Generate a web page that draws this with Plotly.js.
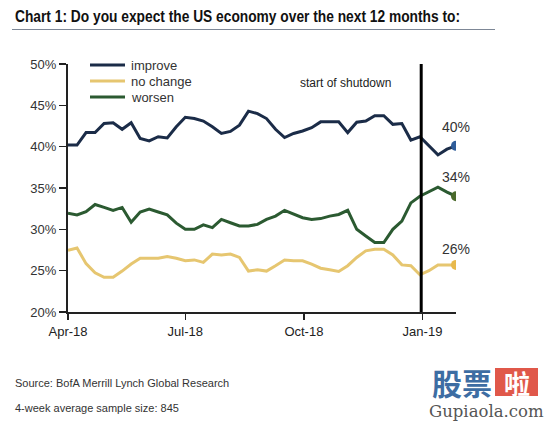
<!DOCTYPE html>
<html>
<head>
<meta charset="utf-8">
<script src="https://cdn.plot.ly/plotly-3.0.1.min.js"></script>
<style>
  html, body { margin: 0; padding: 0; background: #ffffff; }
  #chart { width: 547px; height: 421px; }
</style>
</head>
<body>
<div id="chart"></div>
<script>
// ---- Data (weekly) ----
const startDate = '2018-04-01';
const weeks = 44;
const improve = [40.2, 40.2, 41.7, 41.7, 42.8, 42.9, 42.1, 42.9, 41.0, 40.7, 41.2, 41.05, 42.4, 43.55,
                 43.4, 43.1, 42.4, 41.6, 41.85, 42.6, 44.3, 44.0, 43.4, 42.1, 41.1, 41.6, 41.9, 42.3,
                 43.0, 43.0, 43.0, 41.7, 42.95, 43.1, 43.75, 43.75, 42.7, 42.8, 40.8, 41.2, 40.1, 39.0, 39.7, 40.1];
const noChange = [27.45, 27.75, 25.85, 24.75, 24.2, 24.2, 24.95, 25.8, 26.5, 26.5, 26.5, 26.7, 26.5, 26.2,
                  26.3, 26.0, 27.0, 26.9, 27.0, 26.6, 24.95, 25.1, 24.95, 25.6, 26.3, 26.2, 26.2, 25.8,
                  25.3, 25.1, 24.9, 25.6, 26.6, 27.4, 27.6, 27.6, 26.9, 25.7, 25.6, 24.5, 25.0, 25.7, 25.7, 25.7];
const worsen = [31.95, 31.75, 32.15, 33.0, 32.65, 32.3, 32.65, 30.85, 32.1, 32.45, 32.1, 31.75, 30.75, 30.0,
                30.0, 30.55, 30.2, 31.2, 30.8, 30.4, 30.4, 30.6, 31.2, 31.6, 32.3, 31.8, 31.4, 31.2,
                31.3, 31.6, 31.8, 32.3, 30.0, 29.2, 28.4, 28.4, 30.0, 31.0, 33.2, 34.0, 34.5, 35.1, 34.5, 34.0];
const seriesNames = ['improve', 'no change', 'worsen'];
const tickDates = ['2018-04-01', '2018-07-01', '2018-10-01', '2019-01-01'];
const tickLabels = ['Apr-18', 'Jul-18', 'Oct-18', 'Jan-19'];
const yTicks = [20, 25, 30, 35, 40, 45, 50];
const yTickLabels = ['20%', '25%', '30%', '35%', '40%', '45%', '50%'];
const shutdownDate = '2018-12-31';
const shutdownLabel = 'start of shutdown';
const titleText = 'Chart 1: Do you expect the US economy over the next 12 months to:';
const sourceText = 'Source: BofA Merrill Lynch Global Research';
const sampleText = '4-week average sample size: 845';

// weekly dates
function addDays(iso, n) {
  const d = new Date(iso + 'T00:00:00Z');
  d.setUTCDate(d.getUTCDate() + n);
  return d.toISOString().slice(0, 10);
}
const dates = [];
for (let i = 0; i < weeks; i++) dates.push(addDays(startDate, 7 * i));
const lastDate = dates[dates.length - 1];

// ---- Styling ----
const lineColors = ['#1b2c48', '#e6c670', '#2b5a31'];
const markerColors = ['#2f5d9a', '#e8b94c', '#4b6a2c'];
const values = [improve, noChange, worsen];

// layout pixel geometry
const W = 547, H = 421;
const L = 68, R = 91, T = 64, B = 109;
const pw = W - L - R, ph = H - T - B;
const px2x = x => (x - L) / pw;
const px2y = y => 1 - (y - T) / ph;

const traces = [];
values.forEach((v, i) => {
  traces.push({
    x: dates, y: v, type: 'scatter', mode: 'lines', name: seriesNames[i],
    line: { color: lineColors[i], width: 3 }, showlegend: false, hoverinfo: 'skip'
  });
});
values.forEach((v, i) => {
  traces.push({
    x: [lastDate], y: [v[v.length - 1]], type: 'scatter', mode: 'markers',
    marker: { color: markerColors[i], size: 10 }, showlegend: false, hoverinfo: 'skip'
  });
});

const baseFont = 'Liberation Sans, Arial, sans-serif';
const annotations = values.map((v, i) => ({
  x: lastDate, y: v[v.length - 1], xref: 'x', yref: 'y',
  text: Math.round(v[v.length - 1]) + '%', showarrow: false,
  yshift: i === 1 ? 16 : 19, font: { family: baseFont, size: 14, color: '#333333' }
}));
annotations.push({
  x: shutdownDate, xref: 'x', y: px2y(74), yref: 'paper', text: shutdownLabel, showarrow: false,
  xanchor: 'right', xshift: -28, font: { family: baseFont, size: 12, color: '#222222' }
});
annotations.push({
  x: px2x(13), y: px2y(383), xref: 'paper', yref: 'paper', xanchor: 'left', yanchor: 'middle',
  text: sourceText, showarrow: false, font: { family: baseFont, size: 11, color: '#333333' }
});
annotations.push({
  x: px2x(13), y: px2y(408), xref: 'paper', yref: 'paper', xanchor: 'left', yanchor: 'middle',
  text: sampleText, showarrow: false, font: { family: baseFont, size: 11, color: '#333333' }
});

// manual legend (line sample + label)
const legendY = [65, 81, 97];
const shapes = [];
seriesNames.forEach((name, i) => {
  shapes.push({ type: 'line', xref: 'paper', yref: 'paper', x0: px2x(90), x1: px2x(125),
    y0: px2y(legendY[i]), y1: px2y(legendY[i]), line: { color: lineColors[i], width: 3 } });
  annotations.push({ x: px2x(129), y: px2y(legendY[i]), xref: 'paper', yref: 'paper',
    xanchor: 'left', yanchor: 'middle', text: name, showarrow: false,
    font: { family: baseFont, size: 13, color: '#333333' } });
});

// watermark
annotations.push({
  x: px2x(462), y: px2y(382), xref: 'paper', yref: 'paper', xanchor: 'center', yanchor: 'middle',
  text: '<b>股票</b>', showarrow: false, font: { family: 'Noto Sans CJK SC, sans-serif', size: 30, color: '#3d6da3' }
});
annotations.push({
  x: px2x(516.5), y: px2y(382), xref: 'paper', yref: 'paper', xanchor: 'center', yanchor: 'middle',
  text: '<b>啦</b>', showarrow: false, font: { family: 'Noto Sans CJK SC, sans-serif', size: 26, color: '#ffffff' }
});
annotations.push({
  x: px2x(486), y: px2y(411), xref: 'paper', yref: 'paper', xanchor: 'center', yanchor: 'middle',
  text: 'Gupiaola.com', showarrow: false, font: { family: 'DejaVu Serif, Liberation Serif, serif', size: 16.5, color: '#555555' }
});

shapes.push(
  { type: 'line', xref: 'x', yref: 'paper', x0: shutdownDate, x1: shutdownDate, y0: 0, y1: 1,
    line: { color: '#000000', width: 3 } },
  { type: 'line', xref: 'paper', yref: 'paper', x0: px2x(12), x1: px2x(495), y0: px2y(29.5), y1: px2y(29.5),
    line: { color: '#7d8796', width: 1 } },
  { type: 'rect', xref: 'paper', yref: 'paper', x0: px2x(495), x1: px2x(538), y0: px2y(368), y1: px2y(396),
    fillcolor: '#e0584a', line: { width: 0 }, layer: 'below' }
);

const layout = {
  width: W, height: H,
  margin: { l: L, r: R, t: T, b: B, pad: 0 },
  paper_bgcolor: '#ffffff', plot_bgcolor: '#ffffff',
  title: {
    text: '<b>' + titleText + '</b>', x: 15 / W, xanchor: 'left', xref: 'container',
    y: 1 - 16 / H, yanchor: 'middle', yref: 'container',
    font: { family: baseFont, size: 16, color: '#111111' }
  },
  xaxis: {
    type: 'date', range: [startDate, lastDate], tickvals: tickDates, ticktext: tickLabels,
    showgrid: false, zeroline: false, showline: true, linecolor: '#222222', linewidth: 2,
    ticks: 'outside', ticklen: 6, tickwidth: 1.5, tickcolor: '#222222',
    tickfont: { family: baseFont, size: 13, color: '#222222' }
  },
  yaxis: {
    range: [20, 50], tickvals: yTicks, ticktext: yTickLabels, showgrid: false, zeroline: false,
    showline: true, linecolor: '#222222', linewidth: 2, ticks: 'outside', ticklen: 7,
    tickwidth: 1.5, tickcolor: '#222222',
    tickfont: { family: baseFont, size: 13, color: '#333333' }
  },
  showlegend: false,
  annotations: annotations,
  shapes: shapes
};

Plotly.newPlot('chart', traces, layout, { displayModeBar: false, staticPlot: true }).then(() => {
  // condense the title to the reference's narrow width
  const t = document.querySelector('#chart .gtitle');
  if (t) {
    t.setAttribute('textLength', '445');
    t.setAttribute('lengthAdjust', 'spacingAndGlyphs');
  }
});
</script>
</body>
</html>
